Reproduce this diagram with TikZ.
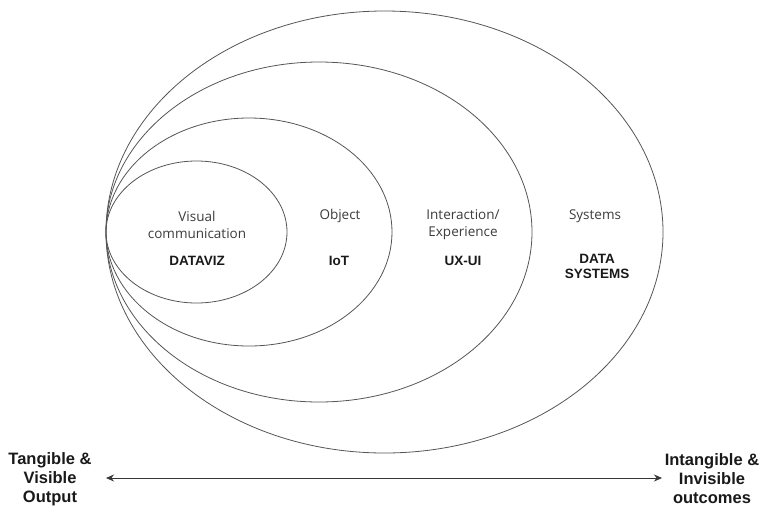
\documentclass[tikz,border=0pt]{standalone}
\usepackage{fontspec}
\setmainfont{Open Sans}
\newfontfamily\headfont{Liberation Sans}
\usetikzlibrary{arrows.meta,positioning,shapes.geometric}
\definecolor{ringgray}{RGB}{85,85,85}
\definecolor{labelgray}{RGB}{60,60,60}
\definecolor{tagblack}{RGB}{25,25,25}
\definecolor{scalegray}{RGB}{55,55,55}

\tikzset{
  ring/.style={draw=ringgray, ellipse, line width=0.8pt, inner sep=0pt, outer sep=0pt},
  area/.style={font=\fontsize{13.5}{17}\selectfont, text=labelgray, align=center},
  tag/.style={font=\headfont\bfseries\fontsize{13.5}{15}\selectfont, text=tagblack, align=center},
  pole/.style={font=\headfont\bfseries\fontsize{16.5}{19}\selectfont, text=tagblack, align=center},
}

\begin{document}
\begin{tikzpicture}[x=1pt, y=-1pt]
  \useasboundingbox (0,0) rectangle (760,507);

  %% nested rings, all touching on the left
  \node[ring, minimum width=557pt, minimum height=442pt] (systems) at (384.5,232) {};
  \node[ring, minimum width=426pt, minimum height=340pt] (interact) at (319,232) {};
  \node[ring, minimum width=286pt, minimum height=228pt] (object) at (249,232) {};
  \node[ring, minimum width=181pt, minimum height=142pt] (visual) at (196.5,232) {};

  %% ring labels
  \node[area] (visuallbl) at (197,225) {Visual\\communication};
  \node[tag] (dataviz) at (197,261) {DATAVIZ};

  \node[area] (objectlbl) at (340,216) {Object};
  \node[tag] (iot) at (339,261) {IoT};

  \node[area] (interactlbl) at (463,225) {Interaction/\\Experience};
  \node[tag] (uxui) at (463,261) {UX-UI};

  \node[area] (systemslbl) at (595,216) {Systems};
  \node[tag] (datasys) at (597,266) {DATA\\SYSTEMS};

  %% scale from tangible to intangible
  \node[pole] (tangible) at (50,479) {Tangible \&\\Visible\\Output};
  \node[pole] (intangible) at (712,479) {Intangible \&\\Invisible\\outcomes};
  \coordinate (leftend) at (106,478);
  \coordinate (rightend) at (662,478);
  \draw[{Stealth[length=8pt,width=7pt]}-{Stealth[length=8pt,width=7pt]}, scalegray, line width=1pt] (leftend) -- (rightend);
\end{tikzpicture}
\end{document}
